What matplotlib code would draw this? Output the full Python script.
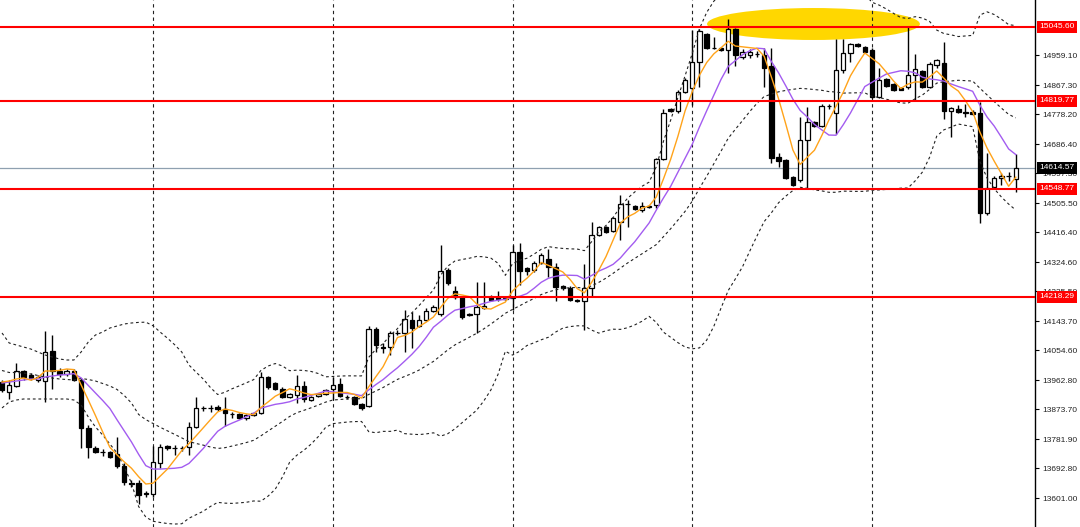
import numpy as np
import pandas as pd
import matplotlib
matplotlib.use("Agg")
import matplotlib.pyplot as plt
from matplotlib.patches import Ellipse
import matplotlib.transforms as mtransforms

plt.rcParams['font.family'] = ['Liberation Sans', 'DejaVu Sans']

# candle data (one candle per index)
opens = [
    13956.8, 13926.1, 13944.5, 13990.6, 13978.3, 13962.9, 13959.9, 14051.9, 13990.6, 13981.3,
    13990.6, 13962.9, 13815.7, 13754.4, 13742.1, 13742.1, 13736.0, 13699.2, 13647.0, 13647.0,
    13616.3, 13613.3, 13708.4, 13760.5, 13754.4, 13754.4, 13757.5, 13818.8, 13877.1, 13878.6,
    13880.1, 13874.0, 13858.7, 13858.7, 13846.4, 13855.6, 13861.7, 13972.1, 13953.7, 13935.3,
    13910.8, 13916.9, 13944.5, 13901.6, 13913.9, 13920.0, 13935.3, 13950.7, 13910.8, 13910.8,
    13889.3, 13883.2, 14119.4, 14064.2, 14064.2, 14107.1, 14107.1, 14147.0, 14128.6, 14147.0,
    14174.6, 14165.4, 14300.3, 14235.9, 14217.5, 14165.4, 14165.4, 14183.8, 14217.5, 14217.5,
    14214.4, 14214.4, 14355.5, 14306.4, 14300.3, 14321.8, 14334.0, 14309.5, 14251.2, 14245.1,
    14208.3, 14205.2, 14245.1, 14407.6, 14432.2, 14419.9, 14447.5, 14502.7, 14496.6, 14484.3,
    14496.6, 14499.7, 14640.8, 14794.1, 14788.0, 14846.2, 14858.5, 14938.2, 15024.1, 14982.1,
    14981.2, 14975.1, 15039.5, 14953.6, 14959.7, 14962.8, 14959.7, 14926.0, 14646.9, 14637.7,
    14585.5, 14576.3, 14699.0, 14754.2, 14741.9, 14803.3, 14781.8, 14913.7, 14965.9, 14993.5,
    14984.3, 14975.1, 14830.9, 14886.1, 14870.8, 14858.5, 14861.6, 14898.4, 14910.6, 14861.6,
    14929.1, 14935.2, 14788.0, 14794.1, 14784.9, 14784.9, 14781.8, 14475.1, 14554.9, 14582.5,
    14588.6, 14579.4]
highs = [
    13962.9, 13962.9, 14015.1, 13993.6, 13984.4, 13978.3, 14113.2, 14101.0, 13999.7, 13996.7,
    13996.7, 13969.1, 13824.9, 13760.5, 13751.3, 13745.2, 13788.1, 13708.4, 13656.2, 13656.2,
    13622.5, 13760.5, 13766.7, 13763.6, 13763.6, 13760.5, 13834.1, 13910.8, 13883.2, 13886.3,
    13886.3, 13910.8, 13864.8, 13861.7, 13858.7, 13864.8, 13987.5, 13975.2, 13956.8, 13941.5,
    13923.1, 13978.3, 13959.9, 13913.9, 13923.1, 13935.3, 13972.1, 13969.1, 13916.9, 13913.9,
    13892.4, 14128.6, 14125.5, 14076.4, 14113.2, 14116.3, 14177.6, 14171.5, 14162.3, 14183.8,
    14193.0, 14377.0, 14306.4, 14251.2, 14220.6, 14168.4, 14263.5, 14263.5, 14223.6, 14235.9,
    14220.6, 14377.0, 14383.1, 14309.5, 14327.9, 14352.4, 14364.7, 14321.8, 14254.3, 14251.2,
    14211.4, 14318.7, 14447.5, 14435.3, 14435.3, 14462.9, 14530.4, 14515.0, 14499.7, 14508.9,
    14499.7, 14643.8, 14794.1, 14797.2, 14852.4, 14889.2, 15036.4, 15039.5, 15027.2, 15014.9,
    14984.3, 15070.1, 15042.5, 14978.1, 14978.1, 14972.0, 14981.2, 14981.2, 14659.2, 14640.8,
    14588.6, 14769.6, 14800.3, 14757.3, 14809.4, 14809.4, 15008.8, 15008.8, 14996.5, 14996.5,
    14987.3, 14981.2, 14919.8, 14889.2, 14873.8, 14861.6, 15045.6, 14962.8, 14913.7, 14938.2,
    14947.4, 14999.6, 14800.3, 14806.4, 14809.4, 14791.0, 14815.6, 14659.2, 14588.6, 14597.8,
    14600.9, 14656.1]
lows = [
    13926.1, 13904.7, 13941.5, 13962.9, 13962.9, 13956.8, 13895.5, 13935.3, 13972.1, 13975.2,
    13959.9, 13754.4, 13723.7, 13739.1, 13729.9, 13723.7, 13693.0, 13640.9, 13634.7, 13582.6,
    13604.1, 13604.1, 13693.0, 13748.3, 13732.9, 13745.2, 13732.9, 13815.7, 13867.9, 13864.8,
    13867.9, 13821.9, 13846.4, 13843.3, 13840.3, 13852.5, 13858.7, 13935.3, 13932.3, 13907.7,
    13907.7, 13892.4, 13895.5, 13898.5, 13910.8, 13916.9, 13901.6, 13910.8, 13904.7, 13886.3,
    13871.0, 13880.1, 14048.8, 14045.8, 14039.6, 14101.0, 14048.8, 14061.1, 14125.5, 14143.9,
    14171.5, 14159.2, 14254.3, 14211.4, 14150.0, 14159.2, 14107.1, 14180.7, 14205.2, 14205.2,
    14208.3, 14177.6, 14254.3, 14285.0, 14294.2, 14318.7, 14278.8, 14205.2, 14238.9, 14205.2,
    14202.2, 14116.3, 14217.5, 14404.6, 14413.8, 14416.9, 14392.3, 14432.2, 14484.3, 14478.2,
    14490.5, 14490.5, 14637.7, 14784.9, 14781.8, 14843.2, 14806.4, 14861.6, 14978.1, 14978.1,
    14972.0, 14904.5, 14926.0, 14947.4, 14950.5, 14953.6, 14861.6, 14628.5, 14616.2, 14579.4,
    14557.9, 14570.2, 14551.8, 14738.9, 14738.9, 14794.1, 14717.4, 14904.5, 14938.2, 14984.3,
    14965.9, 14827.8, 14827.8, 14861.6, 14849.3, 14852.4, 14855.4, 14818.6, 14858.5, 14858.5,
    14919.8, 14763.4, 14708.2, 14781.8, 14769.6, 14775.7, 14444.5, 14469.0, 14548.8, 14561.0,
    14573.3, 14539.5]
closes = [
    13932.3, 13947.6, 13990.6, 13972.1, 13969.1, 13972.1, 14048.8, 13990.6, 13981.3, 13990.6,
    13962.9, 13815.7, 13757.5, 13742.1, 13740.6, 13726.8, 13699.2, 13650.1, 13645.5, 13610.2,
    13614.8, 13711.4, 13757.5, 13754.4, 13752.9, 13755.5, 13818.8, 13877.1, 13878.6, 13877.1,
    13874.0, 13861.7, 13857.5, 13846.4, 13855.6, 13861.7, 13972.1, 13941.5, 13935.3, 13910.8,
    13920.0, 13944.5, 13904.7, 13910.8, 13920.0, 13932.3, 13947.6, 13913.9, 13909.5, 13889.3,
    13877.1, 14119.4, 14070.3, 14062.6, 14107.1, 14108.0, 14150.0, 14122.4, 14147.0, 14174.6,
    14186.8, 14297.2, 14260.4, 14217.5, 14156.2, 14162.3, 14186.8, 14189.9, 14208.3, 14211.4,
    14212.9, 14355.5, 14297.2, 14297.2, 14321.8, 14346.3, 14309.5, 14248.1, 14245.1, 14208.3,
    14205.2, 14245.1, 14407.6, 14432.2, 14416.9, 14459.8, 14502.7, 14503.5, 14487.4, 14496.6,
    14493.5, 14640.8, 14781.8, 14788.0, 14846.2, 14883.0, 14938.2, 15033.3, 14981.2, 14980.5,
    14975.1, 15039.5, 14959.7, 14968.9, 14968.9, 14961.9, 14919.8, 14643.8, 14634.6, 14582.5,
    14561.0, 14699.0, 14754.2, 14741.9, 14803.3, 14802.3, 14913.7, 14965.9, 14993.5, 14987.3,
    14968.9, 14830.9, 14883.0, 14864.6, 14852.4, 14853.9, 14898.4, 14916.8, 14861.6, 14932.1,
    14944.4, 14788.0, 14797.2, 14784.9, 14781.8, 14778.8, 14475.1, 14551.8, 14582.5, 14588.6,
    14587.7, 14614.57]

# indicator values at the left edge, before the rolling windows fill up
fast_ma_start = [13956.8, 13959.9, 13966.0, 13969.1]
slow_ma_start = [13953.7, 13956.8, 13959.9, 13962.9, 13966.0, 13966.0, 13972.1, 13975.2, 13978.3]
bb_upper_start = [14107.1, 14076.4, 14070.3, 14064.2, 14058.0, 14048.8, 14039.6, 14033.5, 14027.3,
                  14024.3, 14024.3, 14048.8, 14079.5, 14101.0, 14110.2, 14122.4, 14128.6, 14134.7,
                  14137.8]
bb_lower_start = [13877.1, 13895.5, 13901.6, 13904.7, 13904.7, 13904.7, 13904.7, 13904.7, 13904.7,
                  13904.7, 13901.6, 13886.3, 13849.5, 13818.8, 13794.3, 13766.7, 13739.1, 13696.2,
                  13647.0]

levels = [15045.60, 14819.77, 14548.77, 14218.29]
last_price = 14614.57
separators = [21, 46, 71, 96, 121]
yticks = [13601.00, 13692.80, 13781.90, 13873.70, 13962.80, 14054.60, 14143.70, 14235.50,
          14324.60, 14416.40, 14505.50, 14597.30, 14686.40, 14778.20, 14867.30, 14959.10]

o = np.array(opens)
h = np.array(highs)
l = np.array(lows)
c = np.array(closes)
x = np.arange(len(c))

# moving averages and bollinger bands
cs = pd.Series(c)
ma5 = cs.rolling(5).mean().to_numpy()
ma5[:4] = fast_ma_start
ma10 = cs.rolling(10).mean().to_numpy()
ma10[:9] = slow_ma_start
bb_mid = cs.rolling(20).mean().to_numpy()
bb_sd = cs.rolling(20).std(ddof=0).to_numpy()
bb_up = bb_mid + 2 * bb_sd
bb_lo = bb_mid - 2 * bb_sd
bb_up[:19] = bb_upper_start
bb_lo[:19] = bb_lower_start
bb_mid[:19] = (np.array(bb_upper_start) + np.array(bb_lower_start)) / 2

fig = plt.figure(figsize=(10.8, 5.27), dpi=100)
ax = fig.add_axes([0, 0, 1035 / 1080, 1])
ax.set_xlim(-0.28, 143.67)
ax.set_ylim(13512.1, 15128.4)

# highlight ellipse
ax.add_patch(Ellipse((112.86, 15054.8), 29.6, 98, color='#ffd700', zorder=1, lw=0))

# period separators
for s in separators:
    ax.axvline(s, color='#222222', lw=0.8, ls=(0, (3, 3)), zorder=1.5)

ax.axhline(last_price, color='#8fa0b0', lw=0.9, zorder=1.6)

# candles
up = c >= o
ax.vlines(x, l, h, color='black', lw=1, zorder=3)
ax.bar(x[up], c[up] - o[up], bottom=o[up], width=0.62, color='white',
       edgecolor='black', lw=0.9, zorder=3.2)
ax.bar(x[~up], c[~up] - o[~up], bottom=o[~up], width=0.62, color='black',
       edgecolor='black', lw=0.9, zorder=3.2)

# indicators
for band in (bb_up, bb_mid, bb_lo):
    ax.plot(x, band, color='#222222', lw=0.8, ls=(0, (2.5, 2.5)), zorder=3.5)
ax.plot(x, ma10, color='#a35cf0', lw=1.0, zorder=3.6)
ax.plot(x, ma5, color='#ffa31a', lw=1.0, zorder=3.7)

# support / resistance lines
for lv in levels:
    ax.axhline(lv, color='#ff0000', lw=1.5, zorder=4)

# price axis
for side in ('left', 'top', 'bottom'):
    ax.spines[side].set_visible(False)
ax.spines['right'].set_color('black')
ax.spines['right'].set_linewidth(1)
ax.set_xticks([])
ax.yaxis.tick_right()
ax.set_yticks(yticks)
ax.set_yticklabels(['%.2f' % v for v in yticks])
ax.tick_params(axis='y', direction='out', length=3, width=0.8, pad=2,
               labelsize=6, colors='black', labelcolor='#222222')

trans = mtransforms.blended_transform_factory(ax.transAxes, ax.transData)
for lv in levels:
    ax.text(1.004, lv, '%.2f' % lv, transform=trans, ha='left', va='center',
            fontsize=6, color='white', zorder=10, clip_on=False,
            bbox=dict(boxstyle='square,pad=0.3', fc='#ff0000', ec='none'))
ax.text(1.004, last_price, '%.2f' % last_price, transform=trans, ha='left', va='center',
        fontsize=6, color='white', zorder=10, clip_on=False,
        bbox=dict(boxstyle='square,pad=0.3', fc='black', ec='none'))

fig.savefig('out.png', dpi=100)
